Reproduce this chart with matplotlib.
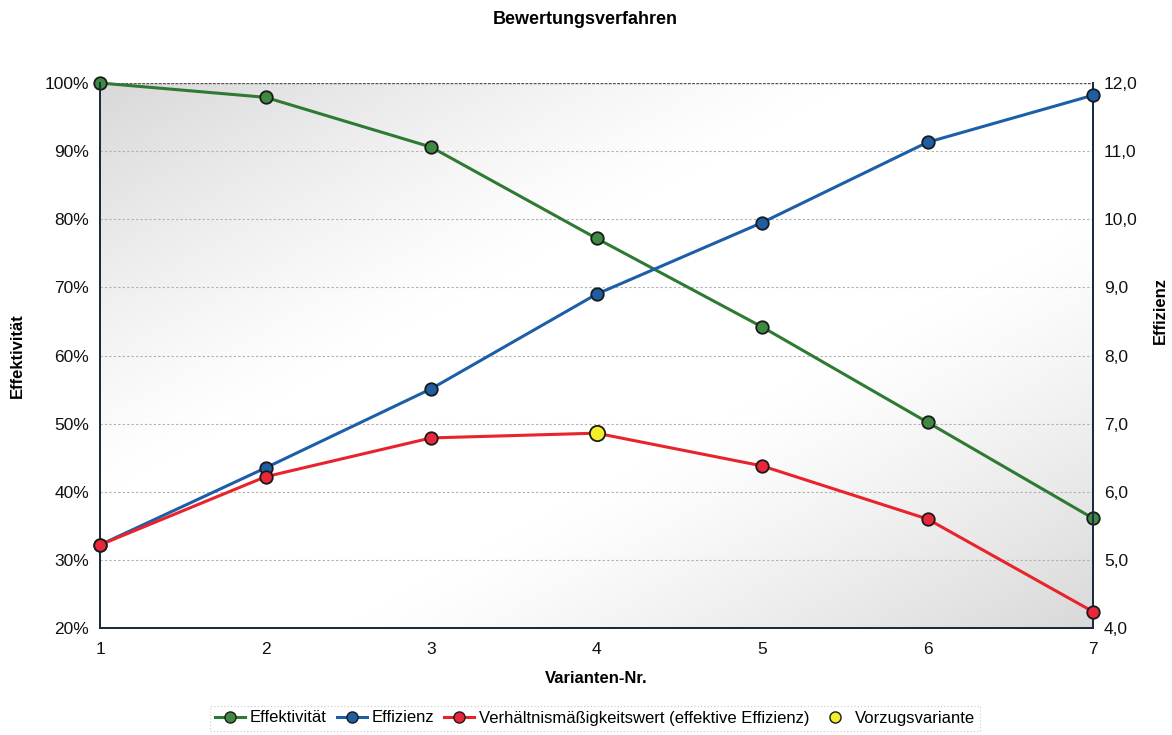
import matplotlib
matplotlib.use("Agg")
import matplotlib.pyplot as plt
import numpy as np
from matplotlib.lines import Line2D
from matplotlib.ticker import FuncFormatter

plt.rcParams['font.family'] = ['Liberation Sans', 'DejaVu Sans']

varianten = [1, 2, 3, 4, 5, 6, 7]
effektivitaet = [100.0, 97.9, 90.6, 77.2, 64.2, 50.2, 36.1]
effizienz = [5.22, 6.35, 7.51, 8.90, 9.95, 11.13, 11.82]
verhaeltnis = [5.22, 6.22, 6.79, 6.86, 6.38, 5.60, 4.24]
vorzug_x = [4]
vorzug_y = [6.86]

left_ticks = [20, 30, 40, 50, 60, 70, 80, 90, 100]
right_ticks = [4.0, 5.0, 6.0, 7.0, 8.0, 9.0, 10.0, 11.0, 12.0]

c_green, c_green_f = '#2f7a32', '#3f8a43'
c_blue, c_blue_f = '#1d5ea8', '#1f5ea3'
c_red, c_red_f = '#e8232b', '#e8283a'
c_yellow = '#f2ef2a'
edge = '#1a1a1a'

fig = plt.figure(figsize=(11.72, 7.35), dpi=100)
ax = fig.add_axes([100/1172, 1-628/735, 993/1172, 545/735])

# gradient background: gray at top-left and bottom-right, white in the middle
n = 200
xx, yy = np.meshgrid(np.linspace(0, 1, n), np.linspace(0, 1, n))
d = (xx + yy) / 2.0  # row 0 = top (origin upper) -> 0 at top-left
g = np.clip((np.abs(d - 0.5) * 2 - 0.25) / 0.75, 0, 1)
val = 1.0 - 0.15 * g ** 1.2
img = np.dstack([val, val, val])
ax.imshow(img, extent=[0, 1, 0, 1], transform=ax.transAxes, aspect='auto',
          origin='upper', zorder=0, interpolation='bilinear')

ax.set_xlim(1, 7)
ax.set_ylim(20, 100)
ax.set_yticks(left_ticks)
ax.yaxis.set_major_formatter(FuncFormatter(lambda v, p: f"{int(v)}%"))
ax.set_xticks(varianten)
for t in left_ticks[1:-1]:
    ax.axhline(t, color='#b0b0b0', lw=0.8, ls=(0, (2, 2)), zorder=1)
ax.axhline(100, color='#555555', lw=1.0, ls=(0, (2, 1)), zorder=1)

ax.plot(varianten, effektivitaet, color=c_green, lw=2.2, marker='o', ms=9,
        mfc=c_green_f, mec=edge, mew=1.3, zorder=3, clip_on=False)

ax2 = ax.twinx()
ax2.set_ylim(4, 12)
ax2.set_yticks(right_ticks)
ax2.yaxis.set_major_formatter(FuncFormatter(lambda v, p: f"{v:.1f}".replace('.', ',')))
ax2.plot(varianten, effizienz, color=c_blue, lw=2.2, marker='o', ms=9,
         mfc=c_blue_f, mec=edge, mew=1.3, zorder=3, clip_on=False)
ax2.plot(varianten, verhaeltnis, color=c_red, lw=2.2, marker='o', ms=9,
         mfc=c_red_f, mec=edge, mew=1.3, zorder=3, clip_on=False)
ax2.plot(vorzug_x, vorzug_y, ls='none', marker='o', ms=11,
         mfc=c_yellow, mec=edge, mew=1.3, zorder=4, clip_on=False)

for a in (ax, ax2):
    for s in a.spines.values():
        s.set_color('#1e2a40')
        s.set_linewidth(1.4)
    a.spines['top'].set_visible(False)
    a.tick_params(axis='both', labelsize=12.5, length=0, pad=8, colors='#111111')

ax.tick_params(axis='x', pad=10, labelsize=12.5)
ax.set_xlabel('Varianten-Nr.', fontsize=12, fontweight='bold', labelpad=10)
ax.set_ylabel('Effektivität', fontsize=12, fontweight='bold', labelpad=14)
fig.text(1160/1172, 1-310/735, 'Effizienz', rotation=90, ha='center', va='center',
         fontsize=12, fontweight='bold')
fig.text(585/1172, 1-20/735, 'Bewertungsverfahren', ha='center', va='center',
         fontsize=13, fontweight='bold')

handles = [
    Line2D([], [], color=c_green, lw=2.2, marker='o', ms=8, mfc=c_green_f, mec=edge),
    Line2D([], [], color=c_blue, lw=2.2, marker='o', ms=8, mfc=c_blue_f, mec=edge),
    Line2D([], [], color=c_red, lw=2.2, marker='o', ms=8, mfc=c_red_f, mec=edge),
    Line2D([], [], ls='none', marker='o', ms=8, mfc=c_yellow, mec=edge),
]
labels = ['Effektivität', 'Effizienz', 'Verhältnismäßigkeitswert (effektive Effizienz)',
          'Vorzugsvariante']
leg = fig.legend(handles, labels, loc='center', bbox_to_anchor=(595/1172, 1-718/735),
                 ncol=4, fontsize=12, frameon=True, handlelength=1.8,
                 handletextpad=0.3, columnspacing=0.6, borderpad=0.3, fancybox=False)
leg.get_frame().set_edgecolor('#bbbbbb')
leg.get_frame().set_linewidth(0.8)
leg.get_frame().set_linestyle((0, (1, 2)))

fig.savefig('out.png', dpi=100)
